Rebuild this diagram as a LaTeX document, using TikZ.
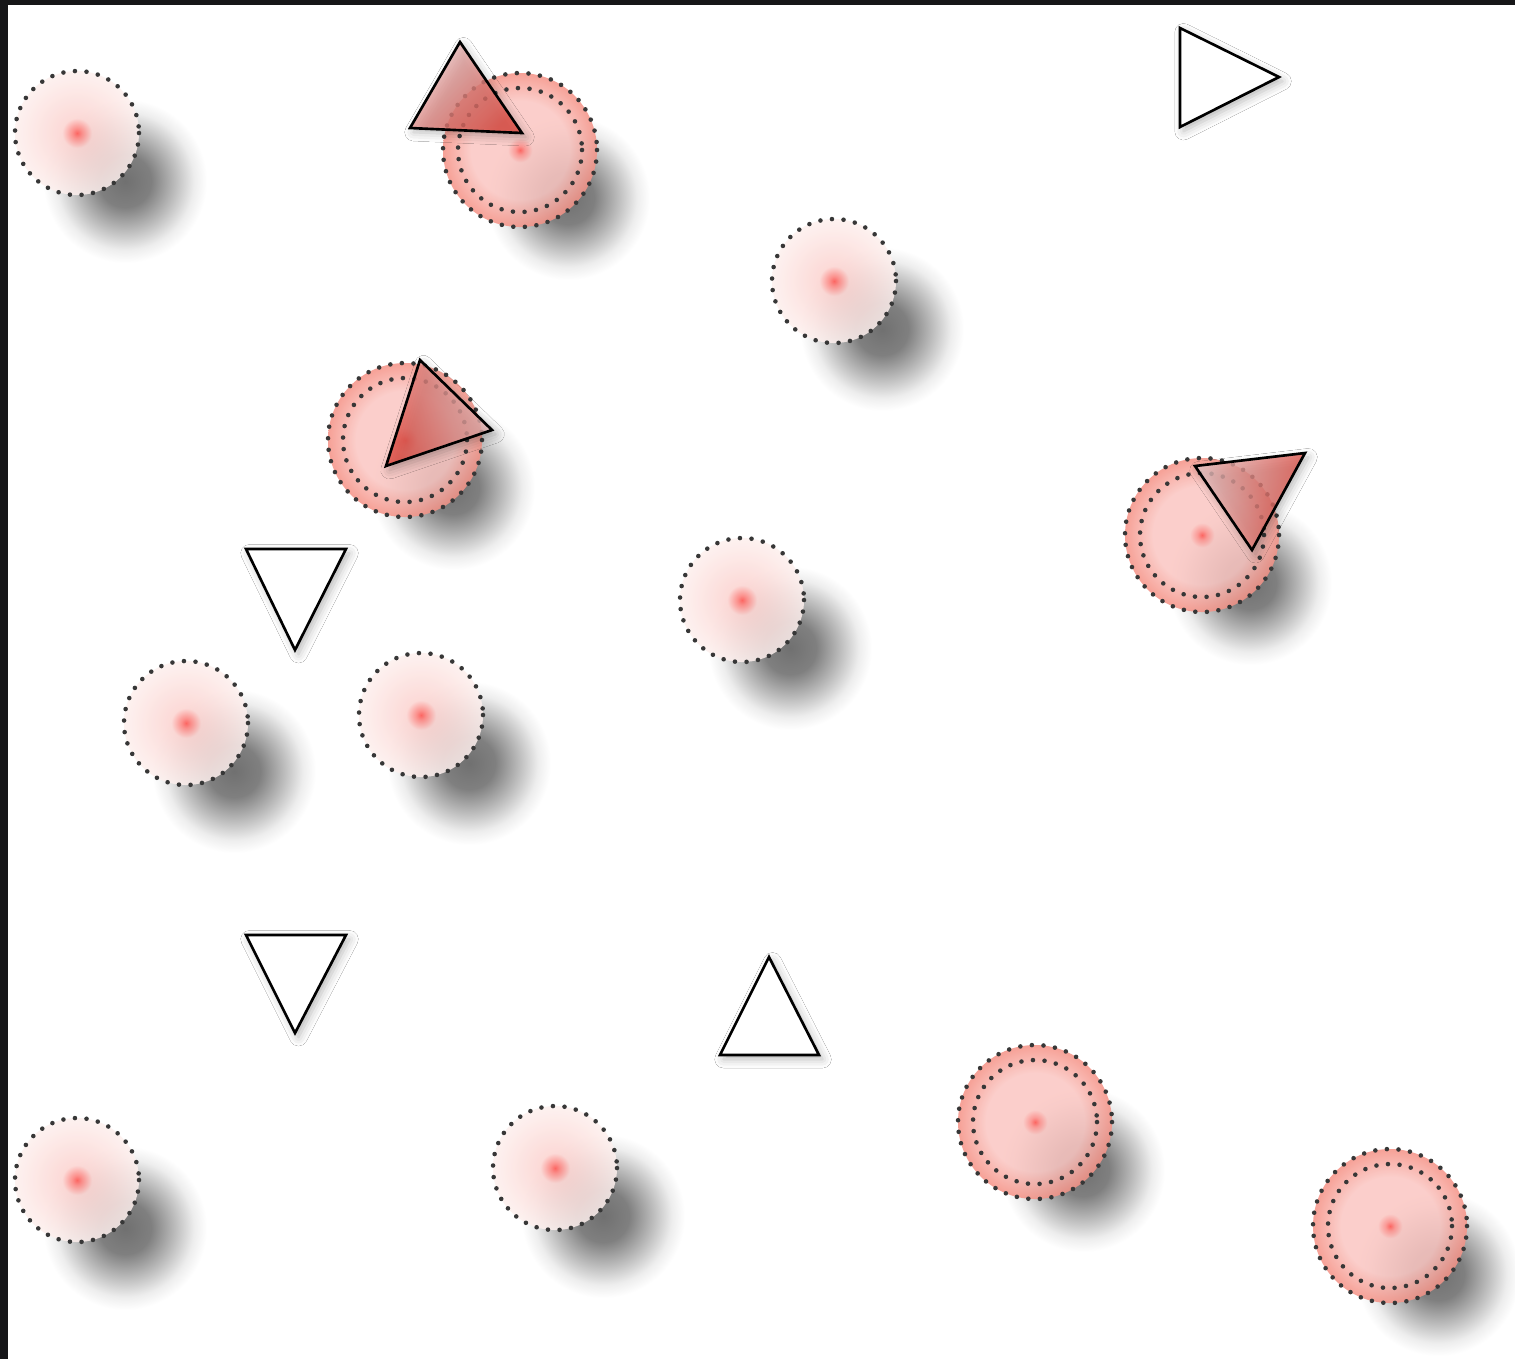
\documentclass[tikz,border=0pt]{standalone}
\usetikzlibrary{shadows.blur}

\definecolor{framegray}{RGB}{22,22,24}
\definecolor{spotred}{RGB}{255,80,75}
\definecolor{palepink}{RGB}{253,240,238}
\definecolor{midpink}{RGB}{252,212,209}
\definecolor{activepink}{RGB}{251,198,194}
\definecolor{ringred}{RGB}{245,145,133}
\definecolor{dotgray}{RGB}{55,55,55}
\definecolor{trilight}{RGB}{228,194,194}
\definecolor{tridark}{RGB}{224,74,64}

% sensor fills and their soft shadows
\pgfdeclareradialshading{idleball}{\pgfpoint{0bp}{0bp}}{color(0bp)=(spotred); color(1.8bp)=(spotred!65!midpink); color(6bp)=(midpink); color(25bp)=(palepink); color(50bp)=(palepink)}
\pgfdeclareradialshading{activeball}{\pgfpoint{0bp}{0bp}}{color(0bp)=(spotred); color(1.5bp)=(spotred!50!activepink); color(4bp)=(activepink); color(16bp)=(activepink); color(25bp)=(ringred); color(50bp)=(ringred)}
\pgfdeclareradialshading{sensorshadow}{\pgfpoint{0bp}{0bp}}{color(0bp)=(black!56); color(8bp)=(black!50); color(15bp)=(black!27); color(21bp)=(black!7); color(25bp)=(white); color(50bp)=(white)}

\begin{document}
\begin{tikzpicture}[
  x=0.01cm, y=-0.01cm,
  dotline/.style={draw=dotgray, line width=1.3pt, line cap=round, dash pattern=on 0pt off 3.3pt},
  shadowdisc/.style={shading=sensorshadow},
  idlesensor/.style={shading=idleball, fill opacity=0.85, dotline},
  activesensor/.style={shading=activeball, fill opacity=0.85, dotline},
  agent/.style={draw=black, line width=0.75pt, line join=miter,
    blur shadow={shadow xshift=1pt, shadow yshift=-1.2pt, shadow blur radius=2.5pt, shadow opacity=28}},
  idleagent/.style={agent, fill=white},
  redagent/.style={agent, top color=trilight, bottom color=tridark, fill opacity=0.78}
]
\useasboundingbox (0,0) rectangle (1515,1359);
\fill[framegray] (0,0) rectangle (1515,1359);
\fill[white] (8,5) rectangle (1515,1359);

% shadows first
\foreach \x/\y in {77/133, 834/281, 742/600, 186/723, 421/715, 77/1180, 555/1168,
                   520/150, 405/440, 1202/535, 1035/1122, 1390/1226}
  \shade[shadowdisc] (\x+48,\y+48) circle (82);

% idle sensors
\foreach \x/\y in {77/133, 834/281, 742/600, 186/723, 421/715, 77/1180, 555/1168}
  \shadedraw[idlesensor] (\x,\y) circle (62);

% active sensors
\foreach \x/\y in {520/150, 405/440, 1202/535, 1035/1122, 1390/1226} {
  \shadedraw[activesensor] (\x,\y) circle (77);
  \draw[dotline] (\x,\y) circle (62);
}

% white agents
\draw[idleagent] (1180,28) -- (1279,77) -- (1180,127) -- cycle;
\draw[idleagent] (246,549) -- (346,549) -- (295,650) -- cycle;
\draw[idleagent] (246,935) -- (346,935) -- (295,1033) -- cycle;
\draw[idleagent] (769,957) -- (819,1055) -- (720,1055) -- cycle;

% red agents
\draw[redagent, shading angle=45] (460,42) -- (522,133) -- (410,128) -- cycle;
\draw[redagent, shading angle=-70] (420,360) -- (492,430) -- (386,466) -- cycle;
\draw[redagent, shading angle=80] (1305,453) -- (1252,550) -- (1195,466) -- cycle;
\end{tikzpicture}
\end{document}
